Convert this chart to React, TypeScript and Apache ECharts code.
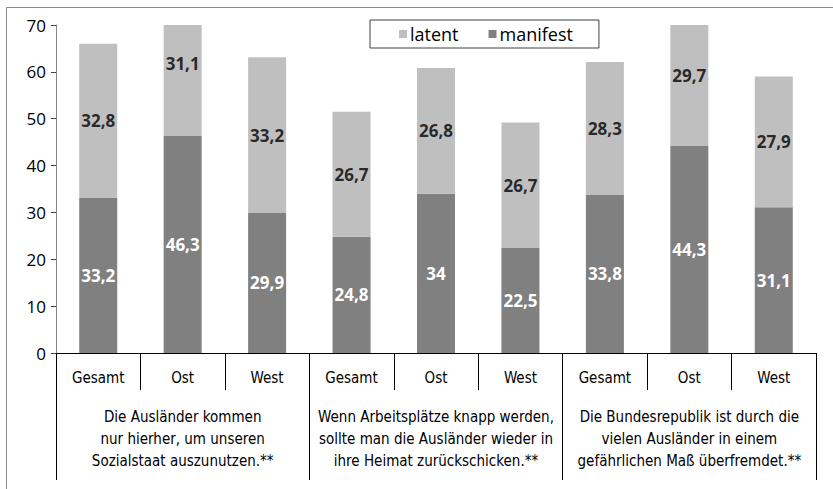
import React, { useEffect, useRef } from "react";
import * as echarts from "echarts";

const categories = ["Gesamt", "Ost", "West", "Gesamt", "Ost", "West", "Gesamt", "Ost", "West"];
const groups = [
  "Die Ausländer kommen\nnur hierher, um unseren\nSozialstaat auszunutzen.**",
  "Wenn Arbeitsplätze knapp werden,\nsollte man die Ausländer wieder in\nihre Heimat zurückschicken.**",
  "Die Bundesrepublik ist durch die\nvielen Ausländer in einem\ngefährlichen Maß überfremdet.**",
];
const manifest = [33.2, 46.3, 29.9, 24.8, 34, 22.5, 33.8, 44.3, 31.1];
const latent = [32.8, 31.1, 33.2, 26.7, 26.8, 26.7, 28.3, 29.7, 27.9];
const yTicks = { min: 0, max: 70, interval: 10 };

const fmt = (v: number) => String(v).replace(".", ",");
const numFont = "'Open Sans', 'Noto Sans', sans-serif";
const condFont = "'DejaVu Sans Condensed', 'Liberation Sans', sans-serif";

export default function App() {
  const ref = useRef<HTMLDivElement>(null);
  useEffect(() => {
    const chart = echarts.init(ref.current!, null, { renderer: "svg" });
    chart.setOption({
      animation: false,
      backgroundColor: "#ffffff",
      graphic: [
        {
          type: "rect",
          shape: { x: 6.5, y: 7.5, width: 840, height: 490 },
          style: { fill: "none", stroke: "#8a8a8a", lineWidth: 1 },
          silent: true,
        },
      ],
      legend: {
        data: ["latent", "manifest"],
        left: 370,
        top: 20,
        padding: [5, 26, 5, 29],
        borderColor: "#404040",
        borderWidth: 1,
        itemWidth: 8,
        itemHeight: 8,
        itemGap: 30,
        icon: "rect",
        textStyle: { fontFamily: numFont, fontSize: 18, color: "#000", padding: [0, 0, 0, -2] },
      },
      grid: { left: 56, right: 17, top: 25, bottom: 136, containLabel: false },
      xAxis: [
        {
          type: "category",
          data: categories,
          position: "bottom",
          axisLine: { show: true, lineStyle: { color: "#000", width: 1 } },
          axisTick: { show: true, interval: 0, length: 37, lineStyle: { color: "#000" } },
          axisLabel: { interval: 0, margin: 17, fontFamily: condFont, fontSize: 15, color: "#000" },
        },
        {
          type: "category",
          data: groups,
          position: "bottom",
          axisLine: { show: false },
          axisTick: { show: true, interval: 0, length: 127, lineStyle: { color: "#000" } },
          axisLabel: {
            interval: 0,
            margin: 53,
            lineHeight: 22,
            fontFamily: condFont,
            fontSize: 15,
            color: "#000",
            align: "center",
          },
        },
      ],
      yAxis: {
        type: "value",
        min: yTicks.min,
        max: yTicks.max,
        interval: yTicks.interval,
        splitLine: { show: false },
        axisLine: { show: true, lineStyle: { color: "#868686" } },
        axisTick: { show: true, length: 5, lineStyle: { color: "#404040" } },
        axisLabel: { margin: 10, fontFamily: numFont, fontSize: 17, color: "#000" },
      },
      series: [
        {
          name: "manifest",
          type: "bar",
          stack: "s",
          barWidth: 38,
          clip: true,
          data: manifest,
          itemStyle: { color: "#808080" },
          label: {
            show: true,
            position: "inside",
            formatter: (p: any) => fmt(p.value),
            fontFamily: numFont,
            fontWeight: "bold",
            fontSize: 17,
            color: "#ffffff",
          },
        },
        {
          name: "latent",
          type: "bar",
          stack: "s",
          barWidth: 38,
          clip: true,
          data: latent,
          itemStyle: { color: "#bfbfbf" },
          label: { show: false },
        },
        {
          name: "latentLabels",
          type: "scatter",
          symbolSize: 0,
          silent: true,
          data: latent.map((v, i) => [i, manifest[i] + v / 2, v]),
          label: {
            show: true,
            position: "inside",
            formatter: (p: any) => fmt(p.value[2]),
            fontFamily: numFont,
            fontWeight: "bold",
            fontSize: 17,
            color: "#000000",
          },
        },
      ],
    });
    return () => chart.dispose();
  }, []);
  return (
    <div
      ref={ref}
      style={{ position: "fixed", left: 0, top: 0, width: 833, height: 489, background: "#fff" }}
    />
  );
}
